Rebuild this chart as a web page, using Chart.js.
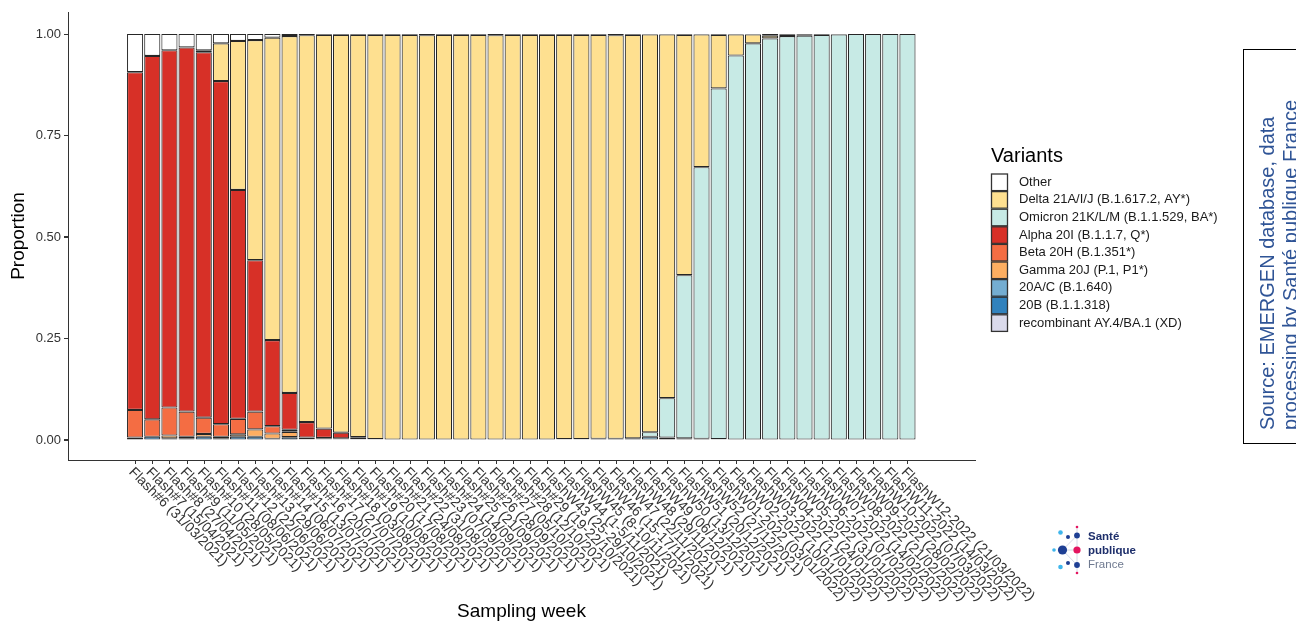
<!DOCTYPE html>
<html>
<head>
<meta charset="utf-8">
<style>
  html, body { margin: 0; background: #fff; }
</style>
<script src="https://cdn.jsdelivr.net/npm/chart.js@4.4.0/dist/chart.umd.min.js"></script>
</head>
<body>
<canvas id="variantChart" width="1296" height="625"></canvas>
<script>
// sampling weeks (x categories)
const weeks = [
  "Flash#6 (31/03/2021)", "Flash#7 (15/04/2021)", "Flash#8 (27/04/2021)", "Flash#9 (11/05/2021)",
  "Flash#10 (28/05/2021)", "Flash#11 (08/06/2021)", "Flash#12 (22/06/2021)", "Flash#13 (29/06/2021)",
  "Flash#14 (06/07/2021)", "Flash#15 (13/07/2021)", "Flash#16 (20/07/2021)", "Flash#17 (27/07/2021)",
  "Flash#18 (03/08/2021)", "Flash#19 (10/08/2021)", "Flash#20 (17/08/2021)", "Flash#21 (24/08/2021)",
  "Flash#22 (31/08/2021)", "Flash#23 (07/09/2021)", "Flash#24 (14/09/2021)", "Flash#25 (21/09/2021)",
  "Flash#26 (28/09/2021)", "Flash#27 (05/10/2021)", "Flash#28 (12/10/2021)", "Flash#29 (19-22/10/2021)",
  "FlashW43 (25-29/10/2021)", "FlashW44 (1-5/11/2021)", "FlashW45 (8-10/11/2021)", "FlashW46 (15-17/11/2021)",
  "FlashW47 (22/11/2021)", "FlashW48 (29/11/2021)", "FlashW49 (06/12/2021)", "FlashW50 (13/12/2021)",
  "FlashW51 (20/12/2021)", "FlashW52 (27/12/2021)", "FlashW01-2022 (03/01/2022)", "FlashW02-2022 (10/01/2022)",
  "FlashW03-2022 (17/01/2022)", "FlashW04-2022 (24/01/2022)", "FlashW05-2022 (31/01/2022)", "FlashW06-2022 (07/02/2022)",
  "FlashW07-2022 (14/02/2022)", "FlashW08-2022 (21/02/2022)", "FlashW09-2022 (28/02/2022)", "FlashW10-2022 (07/03/2022)",
  "FlashW11-2022 (14/03/2022)", "FlashW12-2022 (21/03/2022)",
];

// proportions per variant, one value per week
const other = [
  0.094, 0.054, 0.040, 0.033, 0.040, 0.023, 0.017, 0.015, 0.009, 0.005,
  0.003, 0.002, 0.002, 0.002, 0.002, 0.002, 0.002, 0.003, 0.002, 0.002,
  0.002, 0.003, 0.002, 0.002, 0.002, 0.002, 0.002, 0.002, 0.003, 0.002,
  0.001, 0.001, 0.002, 0.001, 0.002, 0.001, 0.001, 0.004, 0.002, 0.002,
  0.002, 0.001, 0, 0, 0, 0,
];
const delta = [
  0, 0, 0, 0, 0.005, 0.093, 0.367, 0.542, 0.745, 0.879,
  0.953, 0.970, 0.980, 0.991, 0.996, 0.997, 0.998, 0.997, 0.998, 0.998,
  0.998, 0.997, 0.998, 0.998, 0.997, 0.996, 0.996, 0.995, 0.994, 0.994,
  0.980, 0.896, 0.592, 0.327, 0.132, 0.052, 0.022, 0.007, 0.003, 0.002,
  0, 0, 0, 0, 0, 0,
];
const omicron = [
  0, 0, 0, 0, 0, 0, 0, 0, 0, 0,
  0, 0, 0, 0, 0, 0, 0, 0, 0, 0,
  0, 0, 0, 0, 0, 0, 0, 0, 0, 0,
  0.011, 0.097, 0.402, 0.669, 0.864, 0.946, 0.976, 0.988, 0.994, 0.995,
  0.997, 0.998, 0.999, 1, 1, 1,
];
const alpha = [
  0.832, 0.895, 0.880, 0.897, 0.900, 0.845, 0.564, 0.373, 0.212, 0.091,
  0.038, 0.023, 0.014, 0.005, 0.001, 0, 0, 0, 0, 0,
  0, 0, 0, 0, 0, 0, 0, 0, 0, 0,
  0, 0, 0, 0, 0, 0, 0, 0, 0, 0,
  0, 0, 0, 0, 0, 0,
];
const beta = [
  0.068, 0.043, 0.069, 0.062, 0.040, 0.031, 0.038, 0.044, 0.018, 0.005,
  0, 0.001, 0, 0, 0, 0, 0, 0, 0, 0,
  0, 0, 0, 0, 0, 0, 0, 0, 0, 0,
  0, 0, 0, 0, 0, 0, 0, 0, 0, 0,
  0, 0, 0, 0, 0, 0,
];
const gamma = [
  0, 0, 0.007, 0.005, 0.007, 0.004, 0.006, 0.018, 0.013, 0.013,
  0.004, 0.002, 0.002, 0.001, 0, 0, 0, 0, 0, 0,
  0, 0, 0, 0, 0, 0, 0, 0, 0, 0,
  0, 0, 0, 0, 0, 0, 0, 0, 0, 0,
  0, 0, 0, 0, 0, 0,
];
const b1640 = [
  0, 0, 0, 0, 0, 0, 0, 0, 0, 0,
  0, 0, 0, 0, 0, 0, 0, 0, 0, 0,
  0, 0, 0, 0, 0.001, 0.002, 0.002, 0.003, 0.003, 0.004,
  0.008, 0.006, 0.004, 0.003, 0.002, 0.001, 0.001, 0, 0, 0,
  0, 0, 0, 0, 0, 0,
];
const b11318 = [
  0.006, 0.008, 0.004, 0.003, 0.008, 0.004, 0.008, 0.008, 0.003, 0.007,
  0.002, 0.002, 0.002, 0.001, 0.001, 0.001, 0, 0, 0, 0,
  0, 0, 0, 0, 0, 0, 0, 0, 0, 0,
  0, 0, 0, 0, 0, 0, 0, 0, 0, 0,
  0, 0, 0, 0, 0, 0,
];
const recombXD = [
  0, 0, 0, 0, 0, 0, 0, 0, 0, 0,
  0, 0, 0, 0, 0, 0, 0, 0, 0, 0,
  0, 0, 0, 0, 0, 0, 0, 0, 0, 0,
  0, 0, 0, 0, 0, 0, 0, 0.001, 0.001, 0.001,
  0.001, 0.001, 0.001, 0, 0, 0,
];

const yTicks = [0, 0.25, 0.5, 0.75, 1];

// stacking order, bottom first
const series = [
  { label: "recombinant AY.4/BA.1 (XD)", values: recombXD, color: "#dadaeb" },
  { label: "20B (B.1.1.318)", values: b11318, color: "#3182bd" },
  { label: "20A/C (B.1.640)", values: b1640, color: "#74add1" },
  { label: "Gamma 20J (P.1, P1*)", values: gamma, color: "#fdae61" },
  { label: "Beta 20H (B.1.351*)", values: beta, color: "#f46d43" },
  { label: "Alpha 20I (B.1.1.7, Q*)", values: alpha, color: "#d73027" },
  { label: "Omicron 21K/L/M (B.1.1.529, BA*)", values: omicron, color: "#c7eae5" },
  { label: "Delta 21A/I/J (B.1.617.2, AY*)", values: delta, color: "#fee090" },
  { label: "Other", values: other, color: "#ffffff" },
];

const FONT = '"Liberation Sans", Arial, sans-serif';
Chart.defaults.font.family = FONT;

// axis tick marks + rotated week labels (down-right, like ggplot angle -45)
const weekLabels = {
  id: "weekLabels",
  afterDraw(chart) {
    const { ctx, scales: { x, y } } = chart;
    ctx.save();
    ctx.strokeStyle = "#333";
    ctx.lineWidth = 1;
    ctx.beginPath();
    weeks.forEach((w, i) => {
      const px = Math.round(x.getPixelForValue(i)) + 0.5;
      ctx.moveTo(px, x.top);
      ctx.lineTo(px, x.top + 4);
    });
    yTicks.forEach((v) => {
      const py = Math.round(y.getPixelForValue(v)) + 0.5;
      ctx.moveTo(y.right - 4, py);
      ctx.lineTo(y.right, py);
    });
    ctx.stroke();

    ctx.font = "14px " + FONT;
    ctx.fillStyle = "#333";
    ctx.textAlign = "left";
    ctx.textBaseline = "middle";
    weeks.forEach((w, i) => {
      ctx.save();
      ctx.translate(x.getPixelForValue(i) - 4, x.top + 10);
      ctx.rotate(Math.PI / 4);
      ctx.fillText(w, 0, 0);
      ctx.restore();
    });
    ctx.restore();
  },
};

// legend, source box and logo
const sideStuff = {
  id: "sideStuff",
  afterDraw(chart) {
    const { ctx } = chart;
    const sets = chart.data.datasets.slice().reverse();
    ctx.save();

    // legend
    ctx.fillStyle = "#000";
    ctx.font = "20px " + FONT;
    ctx.textBaseline = "alphabetic";
    ctx.fillText("Variants", 991, 162);
    ctx.font = "13px " + FONT;
    ctx.textBaseline = "middle";
    sets.forEach((ds, i) => {
      const y = 173.5 + i * 17.6;
      ctx.fillStyle = ds.backgroundColor;
      ctx.fillRect(991, y, 17, 17.6);
      ctx.strokeStyle = "#333";
      ctx.lineWidth = 1.3;
      ctx.strokeRect(991.5, y + 0.5, 16, 16.6);
      ctx.fillStyle = "#1a1a1a";
      ctx.fillText(ds.label, 1019, y + 8.8);
    });

    // source box
    ctx.strokeStyle = "#000";
    ctx.lineWidth = 1;
    ctx.strokeRect(1243.5, 49.5, 80, 394);
    ctx.save();
    ctx.fillStyle = "#2f5496";
    ctx.font = "20px " + FONT;
    ctx.textBaseline = "alphabetic";
    ctx.translate(1274, 430);
    ctx.rotate(-Math.PI / 2);
    ctx.fillText("Source: EMERGEN database, data", 0, 0);
    ctx.fillText("processing by Santé publique France", 0, 23);
    ctx.restore();

    // Santé publique France logo
    const dots = [
      [1054, 550, 1.8, "#3fb6ec"], [1062.5, 550, 4.6, "#1e3f94"], [1077, 550, 3.6, "#e4155f"],
      [1060.5, 532.5, 2.3, "#3fb6ec"], [1068, 537, 2.0, "#1e3f94"], [1077, 535.5, 2.9, "#1e3f94"],
      [1077, 527, 1.3, "#e4155f"], [1060.5, 567, 2.3, "#3fb6ec"], [1068, 563, 2.0, "#1e3f94"],
      [1077, 565, 2.9, "#1e3f94"], [1077, 573, 1.3, "#e4155f"],
    ];
    ctx.strokeStyle = "#c9cfe0";
    ctx.lineWidth = 0.8;
    ctx.beginPath();
    ctx.moveTo(1062.5, 550); ctx.lineTo(1077, 550);
    ctx.moveTo(1062.5, 550); ctx.lineTo(1077, 535.5);
    ctx.moveTo(1062.5, 550); ctx.lineTo(1077, 565);
    ctx.moveTo(1077, 527); ctx.lineTo(1077, 573);
    ctx.stroke();
    dots.forEach(([dx, dy, r, c]) => {
      ctx.beginPath();
      ctx.arc(dx, dy, r, 0, Math.PI * 2);
      ctx.fillStyle = c;
      ctx.fill();
    });
    ctx.textBaseline = "middle";
    ctx.fillStyle = "#1e2f6b";
    ctx.font = "bold 11.5px " + FONT;
    ctx.fillText("Santé", 1088, 537);
    ctx.fillText("publique", 1088, 551);
    ctx.fillStyle = "#6f7a90";
    ctx.font = "11.5px " + FONT;
    ctx.fillText("France", 1088, 565);

    ctx.restore();
  },
};

const datasets = series.map((s) => ({
  label: s.label,
  data: s.values.map((v, i) => ({ x: i, y: v })),
  backgroundColor: s.color,
  borderColor: "#262626",
  borderWidth: 1.1,
  borderSkipped: false,
  categoryPercentage: 0.94,
  barPercentage: 1,
}));

const config = {
  type: "bar",
  data: { datasets },
  plugins: [weekLabels, sideStuff],
  options: {
    responsive: false,
    animation: false,
    layout: { padding: { left: 0, right: 321, top: 12, bottom: 0 } },
    plugins: {
      legend: { display: false },
      tooltip: { enabled: false },
    },
    scales: {
      x: {
        type: "linear",
        stacked: true,
        min: -3.335,
        max: 48.36,
        afterBuildTicks: (s) => {
          s.ticks = weeks.map((w, i) => ({ value: i }));
        },
        afterFit: (s) => {
          s.height = 165;
        },
        ticks: { display: false, autoSkip: false },
        grid: { display: false },
        border: { display: true, color: "#333", width: 1 },
        title: {
          display: true,
          text: "Sampling week",
          color: "#000",
          font: { size: 19 },
          padding: { top: 0, bottom: 2 },
        },
      },
      y: {
        stacked: true,
        min: -0.0493,
        max: 1.0542,
        afterBuildTicks: (s) => {
          s.ticks = yTicks.map((v) => ({ value: v }));
        },
        afterFit: (s) => {
          s.width = 68;
        },
        ticks: {
          color: "#333",
          font: { size: 13 },
          padding: 3,
          callback: (v) => Number(v).toFixed(2),
        },
        grid: { drawOnChartArea: false, drawTicks: true, tickLength: 4, color: "#333" },
        border: { display: true, color: "#333", width: 1 },
        title: {
          display: true,
          text: "Proportion",
          color: "#000",
          font: { size: 19 },
          padding: { top: 7, bottom: 0 },
        },
      },
    },
  },
};

const variantChart = new Chart(document.getElementById("variantChart"), config);
</script>
</body>
</html>
